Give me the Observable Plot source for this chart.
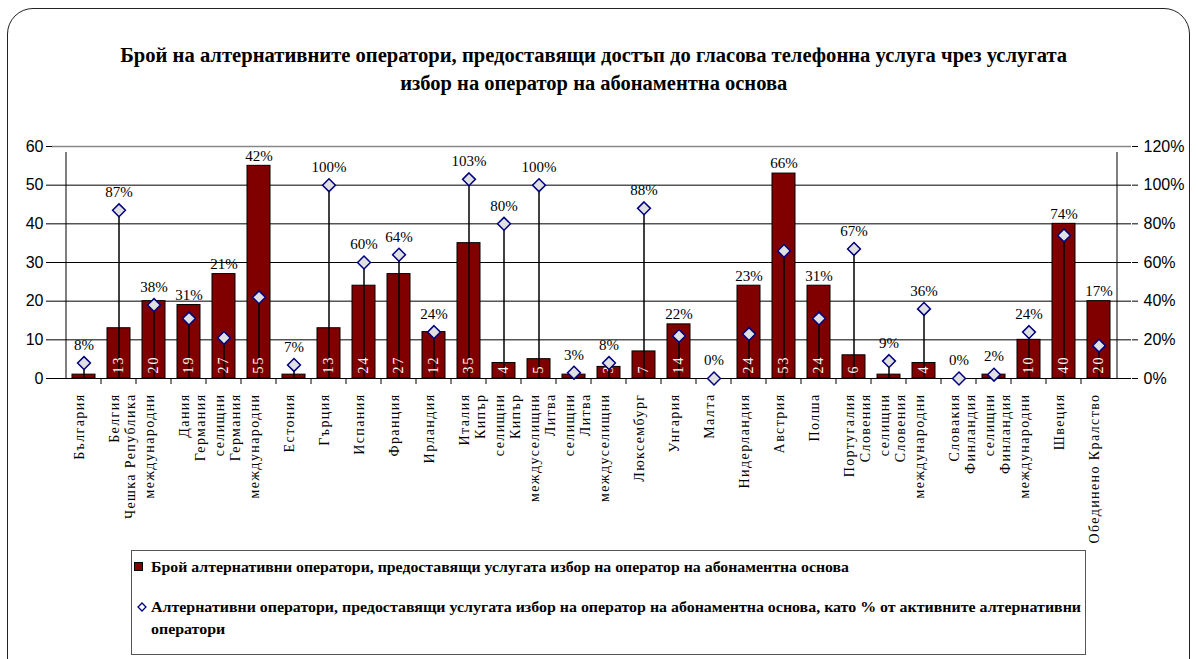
<!DOCTYPE html>
<html>
<head>
<meta charset="utf-8">
<script src="https://cdn.jsdelivr.net/npm/d3@7"></script>
<script src="https://cdn.jsdelivr.net/npm/@observablehq/plot@0.6"></script>
<style>
  html, body { margin: 0; padding: 0; background: #fff; }
  #root { position: relative; width: 1198px; height: 659px; overflow: hidden; background: #fff; }
  #frame { position: absolute; left: 7px; top: 8px; width: 1183px; height: 720px; border: 1.5px solid #222; border-radius: 26px; box-sizing: border-box; }
  #header { position: relative; height: 120px; }
  .fit { position: absolute; white-space: nowrap; font-family: "Liberation Serif", "Times New Roman", serif; font-weight: bold; color: #000; }
  .title { font-size: 20px; line-height: 24px; }
  #chart { position: relative; }
  #legend { position: absolute; left: 131px; top: 550px; width: 955px; height: 105px; border: 1.5px solid #555; box-sizing: border-box; }
  .leg { font-size: 15px; line-height: 20px; }
</style>
</head>
<body>
<div id="root">
  <div id="frame"></div>
  <div id="header"></div>
  <div id="chart"></div>
  <div id="legend"></div>
</div>
<script>
const titleLines = [
  "Брой на алтернативните оператори, предоставящи достъп до гласова телефонна услуга чрез услугата",
  "избор на оператор на абонаментна основа"
];
const legendBars = "Брой алтернативни оператори, предоставящи услугата избор на оператор на абонаментна основа";
const legendShareLines = [
  "Алтернативни оператори, предоставящи услугата избор на оператор на абонаментна основа, като %  от активните алтернативни",
  "оператори"
];
const categories = [
  "България", "Белгия", "Чешка Република\nмеждународни", "Дания", "Германия\nселищни",
  "Германия\nмеждународни", "Естония", "Гърция", "Испания", "Франция",
  "Ирландия", "Италия", "Кипър\nселищни", "Кипър\nмеждуселищни", "Литва\nселищни",
  "Литва\nмеждуселищни", "Люксембург", "Унгария", "Малта", "Нидерландия",
  "Австрия", "Полша", "Португалия", "Словения\nселищни", "Словения\nмеждународни",
  "Словакия", "Финландия\nселищни", "Финландия\nмеждународни", "Швеция", "Обединено Кралство"
];
const operators = [1, 13, 20, 19, 27, 55, 1, 13, 24, 27, 12, 35, 4, 5, 1, 3, 7, 14, 0, 24, 53, 24, 6, 1, 4, 0, 1, 10, 40, 20];
const sharePct = [8, 87, 38, 31, 21, 42, 7, 100, 60, 64, 24, 103, 80, 100, 3, 8, 88, 22, 0, 23, 66, 31, 67, 9, 36, 0, 2, 24, 74, 17];
const leftTicks = [0, 10, 20, 30, 40, 50, 60];

const data = categories.map((name, i) => ({name, bar: operators[i], pct: sharePct[i]}));
// share is drawn on the right axis: 0–120% maps onto the left 0–60
const sy = d => d.pct / 2;
const diamondHigher = d => sy(d) + 1.8 > d.bar;

const SERIF = "'Liberation Serif', 'Times New Roman', serif";
const SERIF_CAT = "Liberation Serif, serif";
const SERIF_BAR = "'Liberation Serif', serif";

const W = 1198, H = 430;
const plot = Plot.plot({
  width: W, height: H,
  marginLeft: 52, marginRight: 67, marginTop: 26, marginBottom: 172,
  style: {fontFamily: "'Liberation Sans', Arial, sans-serif", fontSize: "16px", color: "#000", background: "transparent"},
  x: {domain: categories, paddingInner: 0.333, paddingOuter: 0.1665, axis: null},
  y: {domain: [0, 60], axis: null},
  marks: [
    Plot.ruleY([10, 20, 30, 40, 50], {stroke: "#000", strokeWidth: 1}),
    Plot.ruleY([60], {stroke: "#888", strokeWidth: 1.5}),
    Plot.barY(data, {x: "name", y: "bar", fill: "#800000", stroke: "#000", strokeWidth: 1}),
    Plot.ruleY([0], {stroke: "#000", strokeWidth: 1}),
    Plot.ruleX([categories[0]], {x: d => d, dx: -18, y1: 0, y2: 60, insetBottom: -6, stroke: "#000", strokeWidth: 1}),
    Plot.ruleX([categories[categories.length - 1]], {x: d => d, dx: 18, y1: 0, y2: 60, insetBottom: -6, stroke: "#000", strokeWidth: 1}),
    Plot.ruleX(categories.slice(1), {x: d => d, dx: -18, y1: 0, y2: 0, insetBottom: -6, stroke: "#000", strokeWidth: 1}),
    Plot.ruleX(data, {x: "name", y1: 0, y2: sy, stroke: "#000", strokeWidth: 1.5}),
    Plot.text(data.filter(d => d.bar >= 3), {
      x: "name", y: 0, text: d => String(d.bar), rotate: -90, textAnchor: "start", dy: -5,
      fill: "#fff", fontFamily: SERIF_BAR, fontSize: 14
    }),
    Plot.dot(data, {x: "name", y: sy, symbol: "diamond2", r: 5.8, fill: "#e0e0e0", stroke: "#000080", strokeWidth: 1.5}),
    Plot.text(data.filter(diamondHigher), {
      x: "name", y: sy, text: d => d.pct + "%", dy: -18,
      fill: "#000", fontFamily: SERIF, fontSize: 15
    }),
    Plot.text(data.filter(d => !diamondHigher(d)), {
      x: "name", y: "bar", text: d => d.pct + "%", dy: -10,
      fill: "#000", fontFamily: SERIF, fontSize: 15
    }),
    Plot.text(data, {
      x: "name", frameAnchor: "bottom", text: "name", rotate: -90, textAnchor: "end", dy: 15,
      lineHeight: 1.38, fill: "#000", fontFamily: SERIF_CAT, fontSize: 14
    }),
    Plot.axisY({anchor: "left", ticks: leftTicks, label: null, tickSize: 6, tickPadding: 3, fontSize: 16, stroke: "#000"}),
    Plot.axisY({anchor: "right", ticks: leftTicks, label: null, tickFormat: d => (d * 2) + "%", tickSize: 6, tickPadding: 6, fontSize: 16, stroke: "#000"})
  ]
});
document.getElementById("chart").appendChild(plot);
d3.select(plot).selectAll("g").filter(function () { return this.getAttribute("font-family") === SERIF_CAT; })
  .selectAll("text").attr("letter-spacing", "1.4px").style("letter-spacing", "1.4px");
d3.select(plot).selectAll("g").filter(function () { return this.getAttribute("font-family") === SERIF_BAR; })
  .selectAll("text").attr("letter-spacing", "2px").style("letter-spacing", "2px");

// Title & legend text, scaled horizontally to the reference widths
function fitText(parent, txt, cls, left, centerY, targetW, anchor) {
  const el = document.createElement("div");
  el.className = "fit " + cls;
  el.textContent = txt;
  parent.appendChild(el);
  const r = el.getBoundingClientRect();
  const s = targetW / r.width;
  el.style.top = (centerY - r.height / 2) + "px";
  if (anchor === "middle") {
    el.style.left = (left - r.width / 2) + "px";
    el.style.transformOrigin = "50% 50%";
  } else {
    el.style.left = left + "px";
    el.style.transformOrigin = "0 50%";
  }
  el.style.transform = "scaleX(" + s + ")";
  return s;
}
const header = document.getElementById("header");
fitText(header, titleLines[0], "title", 594, 55, 947, "middle");
fitText(header, titleLines[1], "title", 594, 83, 387, "middle");

const legend = document.getElementById("legend");
// legend is offset by its own left/top (131, 550)
fitText(legend, legendBars, "leg", 150 - 131, 566 - 550, 698, "start");
const s2 = fitText(legend, legendShareLines[0], "leg", 150 - 131, 606 - 550, 930, "start");
{
  const el = document.createElement("div");
  el.className = "fit leg";
  el.textContent = legendShareLines[1];
  legend.appendChild(el);
  const r = el.getBoundingClientRect();
  el.style.left = (150 - 131) + "px";
  el.style.top = (628 - 550 - r.height / 2) + "px";
  el.style.transformOrigin = "0 50%";
  el.style.transform = "scaleX(" + s2 + ")";
}
// legend swatches
const sw = d3.select(legend).append("svg").attr("width", 20).attr("height", 70)
  .style("position", "absolute").style("left", "0px").style("top", "5px");
sw.append("rect").attr("x", 2.5).attr("y", 6.5).attr("width", 8).attr("height", 8).attr("fill", "#800000").attr("stroke", "#000").attr("stroke-width", 1);
sw.append("path").attr("d", d3.symbol(d3.symbolDiamond2, 40)()).attr("transform", "translate(10,51)")
  .attr("fill", "#fff").attr("stroke", "#000080").attr("stroke-width", 1.3);
</script>
</body>
</html>
